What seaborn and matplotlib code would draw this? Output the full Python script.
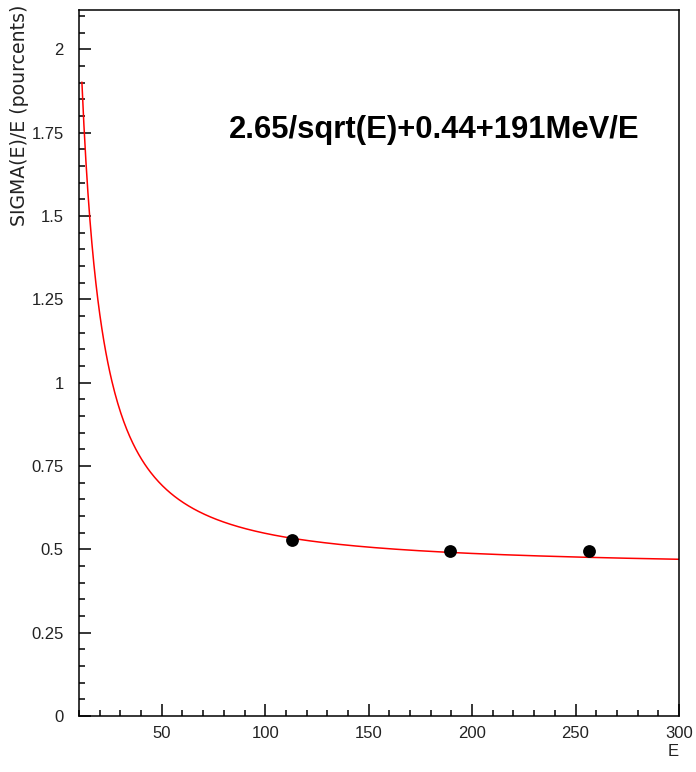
import numpy as np
import pandas as pd
import matplotlib
matplotlib.use("Agg")
import matplotlib.pyplot as plt
from matplotlib.ticker import MultipleLocator, FixedLocator
import seaborn as sns

# ---- data ----
energy_points = [113.1, 189.5, 256.5]          # E
sigma_points = [0.529, 0.496, 0.496]           # SIGMA(E)/E (pourcents)
sigma_errors = [0.007, 0.007, 0.007]

# fit parameters quoted on the chart: 2.65/sqrt(E) (+) 0.44 (+) 191 MeV/E
stochastic_term = 2.65
constant_term = 0.44
noise_term_gev = 0.191
fit_e_start = 11.4
fit_e_end = 300.0

x_ticks = [50, 100, 150, 200, 250, 300]
x_tick_labels = ["50", "100", "150", "200", "250", "300"]
y_ticks = [0, 0.25, 0.5, 0.75, 1, 1.25, 1.5, 1.75, 2]
y_tick_labels = ["0", "0.25", "0.5", "0.75", "1", "1.25", "1.5", "1.75", "2"]
title_text = "2.65/sqrt(E)+0.44+191MeV/E"

# ---- build frames ----
e_grid = np.linspace(fit_e_start, fit_e_end, 600)
fit_vals = np.sqrt((stochastic_term / np.sqrt(e_grid)) ** 2
                   + constant_term ** 2
                   + (noise_term_gev * 100.0 / e_grid) ** 2)
fit_df = pd.DataFrame({"E": e_grid, "sigma": fit_vals})
pts_df = pd.DataFrame({"E": energy_points, "sigma": sigma_points, "err": sigma_errors})

sns.set_style("white")
plt.rcParams["font.family"] = ["Liberation Sans", "DejaVu Sans"]

fig = plt.figure(figsize=(6.96, 7.72), dpi=100)
ax = fig.add_axes([79 / 696, 56 / 772, 600 / 696, 706 / 772])

sns.lineplot(data=fit_df, x="E", y="sigma", ax=ax, color="#ff0000",
             linewidth=1.1, sort=False)
ax.errorbar(pts_df["E"], pts_df["sigma"], yerr=pts_df["err"], fmt="none",
            ecolor="black", elinewidth=1.5, capsize=0, zorder=4)
sns.scatterplot(data=pts_df, x="E", y="sigma", ax=ax, color="black",
                s=85, edgecolor="black", linewidth=0, zorder=5)

ax.set_xlim(10, 300)
ax.set_ylim(0, 2.118)

ax.xaxis.set_major_locator(FixedLocator(x_ticks))
ax.set_xticklabels(x_tick_labels)
ax.yaxis.set_major_locator(FixedLocator(y_ticks))
ax.set_yticklabels(y_tick_labels)
ax.xaxis.set_minor_locator(MultipleLocator(10))
ax.yaxis.set_minor_locator(MultipleLocator(0.05))

ax.tick_params(axis="both", which="both", direction="in", color="black",
               width=1.1, top=False, right=False, left=True, bottom=True)
ax.tick_params(axis="both", which="major", length=8.6, labelsize=12,
               labelcolor="#222222")
ax.tick_params(axis="both", which="minor", length=4.3)
ax.tick_params(axis="y", which="major", pad=11)
ax.tick_params(axis="x", which="major", pad=7)

for sp in ax.spines.values():
    sp.set_visible(True)
    sp.set_color("black")
    sp.set_linewidth(1.1)

ax.set_xlabel("")
ax.set_ylabel("")
fig.text(679 / 696, 1 - 752 / 772, "E", ha="right", va="center",
         fontsize=12, color="#222222")
fig.text(20 / 696, 1 - 5 / 772, "SIGMA(E)/E (pourcents)", rotation=90,
         ha="center", va="top", fontsize=13.6, color="#222222",
         family=["DejaVu Sans"])

ax.text(0.25, 0.83, title_text, transform=ax.transAxes, ha="left",
        va="center", fontsize=22.3, fontweight="bold", color="black")

fig.savefig("out.png", dpi=100)
